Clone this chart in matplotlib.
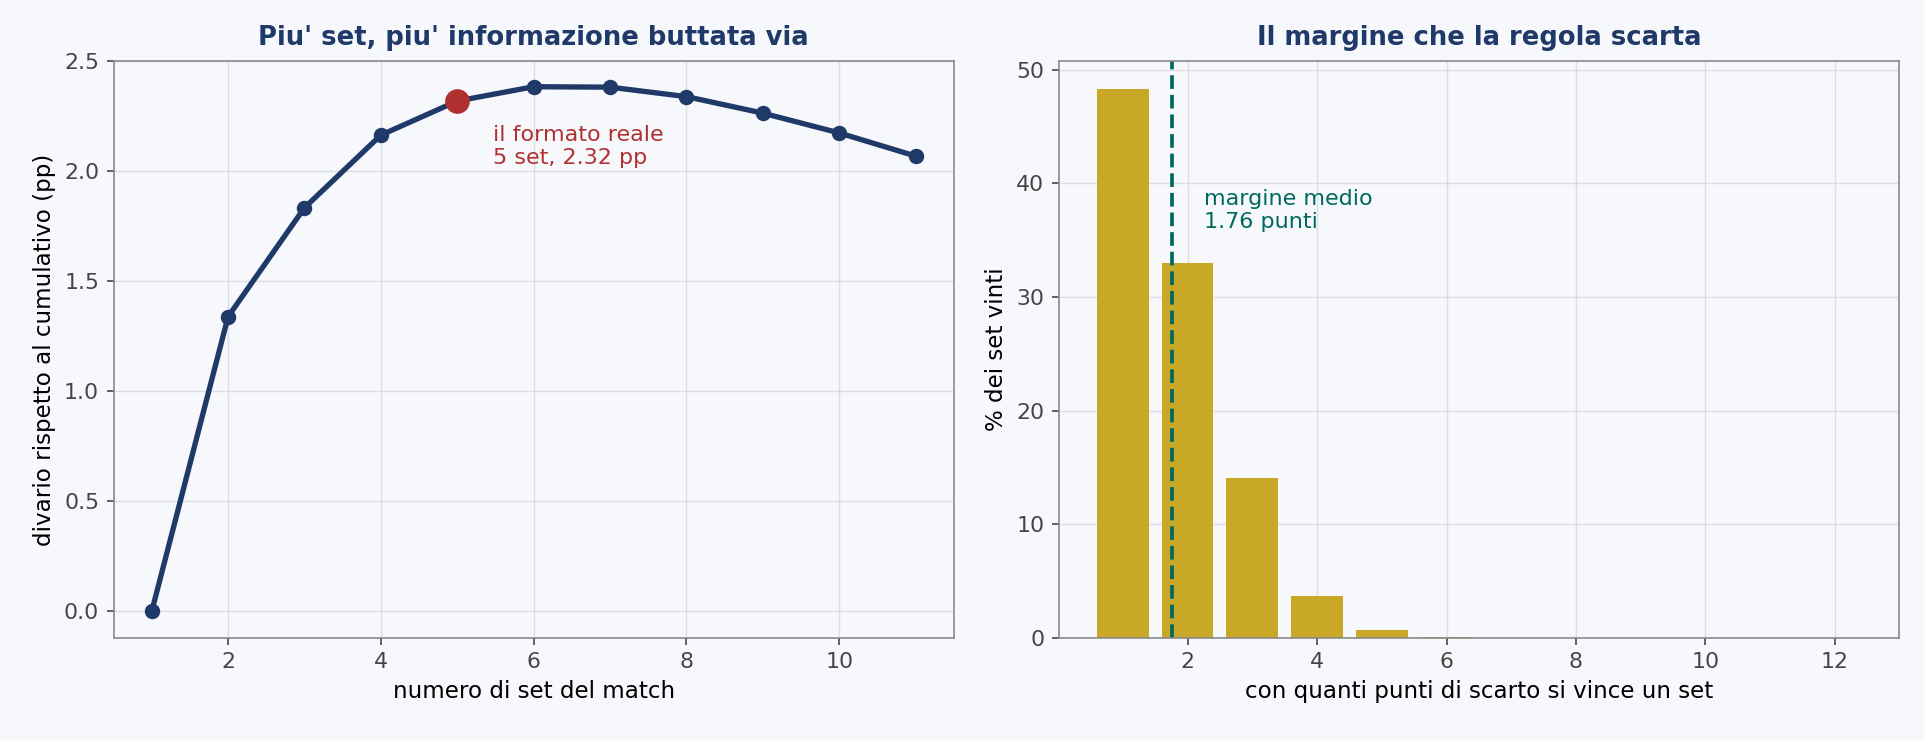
import numpy as np
import matplotlib
matplotlib.use("Agg")
import matplotlib.pyplot as plt

# data
n_sets = [1, 2, 3, 4, 5, 6, 7, 8, 9, 10, 11]
divario = [0.0, 1.34, 1.835, 2.165, 2.32, 2.385, 2.383, 2.34, 2.265, 2.175, 2.07]
real_sets = 5
real_value = 2.32

margini = [1, 2, 3, 4, 5, 6, 7, 8, 9, 10, 11, 12]
perc_set = [48.3, 33.0, 14.1, 3.7, 0.7, 0.05, 0.02, 0.01, 0.0, 0.0, 0.0, 0.0]
margine_medio = 1.76

BG = '#f7f8fc'
NAVY = '#1f3a68'
RED = '#b03030'
GOLD = '#c9a827'
TEAL = '#00695f'

plt.rcParams['font.family'] = ['DejaVu Sans']

fig, (ax1, ax2) = plt.subplots(1, 2, figsize=(13, 5), dpi=148)
fig.patch.set_facecolor(BG)
fig.subplots_adjust(left=0.059, right=0.987, bottom=0.138, top=0.917, wspace=0.125)

for ax in (ax1, ax2):
    ax.set_facecolor(BG)
    ax.grid(True, color='#d5d8de', linewidth=0.7, alpha=0.8)
    ax.set_axisbelow(True)
    for s in ax.spines.values():
        s.set_color('#888888')
    ax.tick_params(colors='#444444', labelsize=10.7, labelcolor='#444444')

# left: gap vs number of sets
ax1.plot(n_sets, divario, color=NAVY, linewidth=2.6, marker='o', markersize=6.5)
ax1.plot([real_sets], [real_value], 'o', color=RED, markersize=11, zorder=5)
ax1.text(real_sets + 0.47, real_value - 0.205, "il formato reale\n5 set, 2.32 pp",
         color=RED, fontsize=10.8, va='center', ha='left', linespacing=1.2)
ax1.set_ylim(-0.12, 2.5)
ax1.set_xticks([2, 4, 6, 8, 10])
ax1.set_title("Piu' set, piu' informazione buttata via", color=NAVY,
              fontsize=12.6, fontweight='bold', pad=8)
ax1.set_xlabel("numero di set del match", fontsize=11.2)
ax1.set_ylabel("divario rispetto al cumulativo (pp)", fontsize=11.2)

# right: margin distribution
ax2.bar(margini, perc_set, width=0.8, color=GOLD)
ax2.axvline(margine_medio, color=TEAL, linestyle='--', linewidth=1.8)
ax2.text(margine_medio + 0.49, 37.6, "margine medio\n1.76 punti",
         color=TEAL, fontsize=10.8, va='center', ha='left', linespacing=1.2)
ax2.set_xticks([2, 4, 6, 8, 10, 12])
ax2.set_title("Il margine che la regola scarta", color=NAVY,
              fontsize=12.6, fontweight='bold', pad=8)
ax2.set_xlabel("con quanti punti di scarto si vince un set", fontsize=11.2)
ax2.set_ylabel("% dei set vinti", fontsize=11.2)

fig.savefig("out.png", dpi=148, facecolor=BG)
